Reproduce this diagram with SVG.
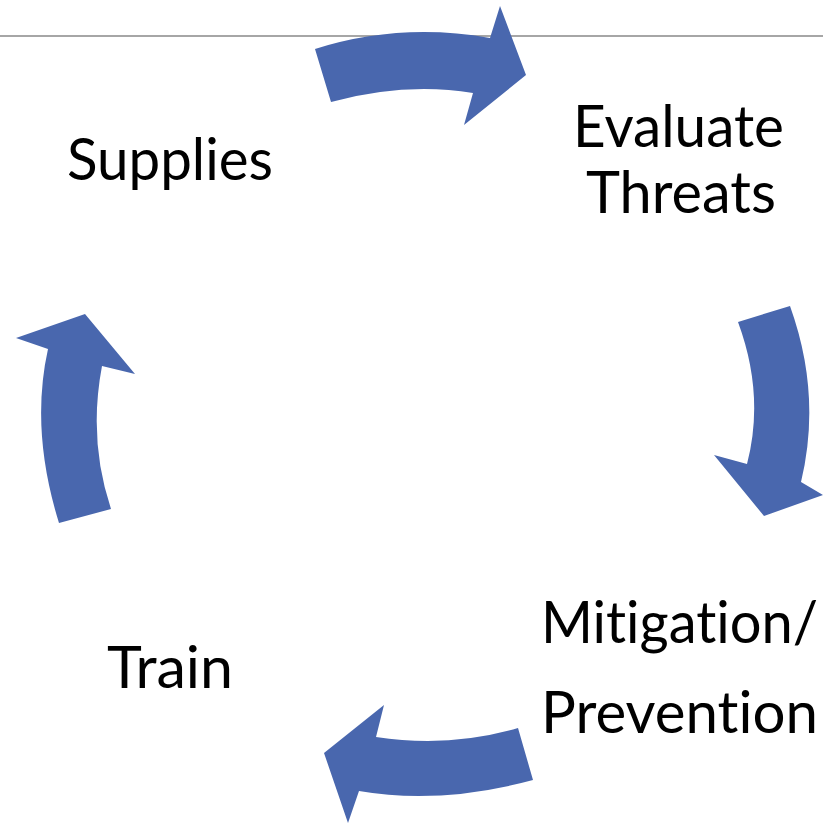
<svg xmlns="http://www.w3.org/2000/svg" width="823" height="824" viewBox="0 0 823 824">
<style>
.arrow{fill:#4967ae;stroke:none}
.lbl{font-family:Lato,"Open Sans","Liberation Sans",sans-serif;font-size:58px;fill:#000;font-variant-ligatures:none;font-feature-settings:"liga" 0,"clig" 0}
</style>
<rect width="823" height="824" fill="#fff"/>
<line x1="0" y1="36" x2="823" y2="36" stroke="#a6a6a6" stroke-width="2"/>
<g id="connectors">
<path class="arrow" d="M315,49 Q400,22 490,38 L500,6 L526,75 L464,125 L473,93 Q405,82 331,102 Z"/>
<path class="arrow" d="M738,322 L790,306 Q822,395 801,482 L823,495 L764,516 L714,455 L747,464 Q765,395 738,322 Z"/>
<path class="arrow" d="M518,728 L533,780 Q440,805 359,791 L348,823 L324,753 L384,705 L376,737 Q450,748 518,728 Z"/>
<path class="arrow" d="M59,523 Q30,430 48,349 L16,338 L85,314 L135,374 L102,366 Q88,440 111,509 Z"/>
</g>
<g id="supplies"><text class="lbl" x="67" y="180" textLength="206" lengthAdjust="spacingAndGlyphs">Supplies</text></g>
<g id="evaluate"><text class="lbl" x="573" y="147" textLength="211" lengthAdjust="spacingAndGlyphs">Evaluate</text><text class="lbl" x="586" y="213" textLength="190" lengthAdjust="spacingAndGlyphs">Threats</text></g>
<g id="mitigation"><text class="lbl" x="541" y="643" textLength="277" lengthAdjust="spacingAndGlyphs">Mitigation/</text><text class="lbl" x="541" y="733" textLength="277" lengthAdjust="spacingAndGlyphs">Prevention</text></g>
<g id="train"><text class="lbl" x="107" y="688" textLength="126" lengthAdjust="spacingAndGlyphs">Train</text></g>
</svg>
